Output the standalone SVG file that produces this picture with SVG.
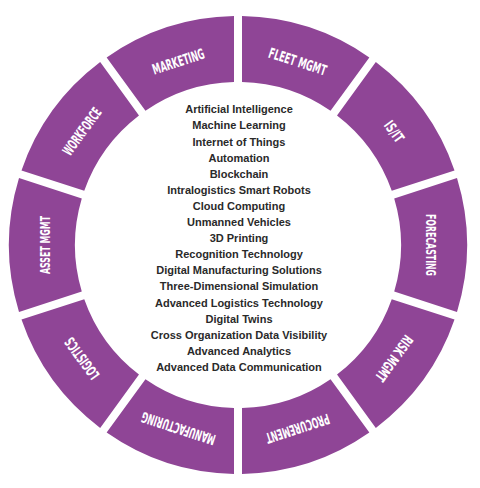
<svg xmlns="http://www.w3.org/2000/svg" width="480" height="488" viewBox="0 0 480 488">
<style>
.seg{fill:#8F4596;}
.lbl{font-family:"Liberation Sans Narrow","DejaVu Sans Condensed","Liberation Sans",sans-serif;font-weight:bold;font-size:14.5px;fill:#ffffff;text-anchor:middle;}
.tech{font-family:"Liberation Sans",Arial,sans-serif;font-weight:bold;font-size:11px;fill:#2a2a2a;text-anchor:middle;}
</style>
<rect width="480" height="488" fill="#ffffff"/>
<g id="fleet-mgmt"><path class="seg" d="M242,16.035 A229,229 0 0 1 369.347,57.413 L330.544,110.819 A163,163 0 0 0 242,82.049 Z"/><text class="lbl" transform="translate(297.64,61.45) rotate(18)" y="5.2" textLength="60" lengthAdjust="spacingAndGlyphs">FLEET MGMT</text></g>
<g id="is-it"><path class="seg" d="M375.819,62.115 A229,229 0 0 1 454.523,170.442 L391.740,190.841 A163,163 0 0 0 337.016,115.521 Z"/><text class="lbl" transform="translate(394.14,131.56) rotate(54)" y="5.2" textLength="23" lengthAdjust="spacingAndGlyphs">IS/IT</text></g>
<g id="forecasting"><path class="seg" d="M456.995,178.050 A229,229 0 0 1 456.995,311.950 L394.212,291.551 A163,163 0 0 0 394.212,198.449 Z"/><text class="lbl" transform="translate(431,245) rotate(90)" y="5.2" textLength="62" lengthAdjust="spacingAndGlyphs">FORECASTING</text></g>
<g id="risk-mgmt"><path class="seg" d="M454.523,319.558 A229,229 0 0 1 375.818,427.886 L337.016,374.479 A163,163 0 0 0 391.740,299.159 Z"/><text class="lbl" transform="translate(394.14,358.44) rotate(126)" y="5.2" textLength="53" lengthAdjust="spacingAndGlyphs">RISK MGMT</text></g>
<g id="procurement"><path class="seg" d="M369.346,432.588 A229,229 0 0 1 242,473.965 L242,407.951 A163,163 0 0 0 330.544,379.181 Z"/><text class="lbl" transform="translate(297.64,428.55) rotate(162)" y="5.2" textLength="66" lengthAdjust="spacingAndGlyphs">PROCUREMENT</text></g>
<g id="manufacturing"><path class="seg" d="M234,473.965 A229,229 0 0 1 106.654,432.588 L145.456,379.181 A163,163 0 0 0 234,407.951 Z"/><text class="lbl" transform="translate(178.36,428.55) rotate(198)" y="5.2" textLength="77" lengthAdjust="spacingAndGlyphs">MANUFACTURING</text></g>
<g id="logistics"><path class="seg" d="M100.182,427.886 A229,229 0 0 1 21.477,319.558 L84.260,299.159 A163,163 0 0 0 138.984,374.479 Z"/><text class="lbl" transform="translate(81.86,358.44) rotate(234)" y="5.2" textLength="48" lengthAdjust="spacingAndGlyphs">LOGISTICS</text></g>
<g id="asset-mgmt"><path class="seg" d="M19.005,311.950 A229,229 0 0 1 19.005,178.050 L81.788,198.449 A163,163 0 0 0 81.788,291.551 Z"/><text class="lbl" transform="translate(45,245) rotate(270)" y="5.2" textLength="58" lengthAdjust="spacingAndGlyphs">ASSET MGMT</text></g>
<g id="workforce"><path class="seg" d="M21.477,170.442 A229,229 0 0 1 100.182,62.114 L138.984,115.521 A163,163 0 0 0 84.260,190.841 Z"/><text class="lbl" transform="translate(81.86,131.56) rotate(306)" y="5.2" textLength="55" lengthAdjust="spacingAndGlyphs">WORKFORCE</text></g>
<g id="marketing"><path class="seg" d="M106.654,57.412 A229,229 0 0 1 234,16.035 L234,82.049 A163,163 0 0 0 145.456,110.819 Z"/><text class="lbl" transform="translate(178.36,61.45) rotate(342)" y="5.2" textLength="54" lengthAdjust="spacingAndGlyphs">MARKETING</text></g>
<g id="connectors"></g>
<g id="technologies">
<text class="tech" x="239" y="113.3">Artificial Intelligence</text>
<text class="tech" x="239" y="129.4">Machine Learning</text>
<text class="tech" x="239" y="145.5">Internet of Things</text>
<text class="tech" x="239" y="161.6">Automation</text>
<text class="tech" x="239" y="177.7">Blockchain</text>
<text class="tech" x="239" y="193.8">Intralogistics Smart Robots</text>
<text class="tech" x="239" y="209.9">Cloud Computing</text>
<text class="tech" x="239" y="226.0">Unmanned Vehicles</text>
<text class="tech" x="239" y="242.1">3D Printing</text>
<text class="tech" x="239" y="258.2">Recognition Technology</text>
<text class="tech" x="239" y="274.3">Digital Manufacturing Solutions</text>
<text class="tech" x="239" y="290.4">Three-Dimensional Simulation</text>
<text class="tech" x="239" y="306.5">Advanced Logistics Technology</text>
<text class="tech" x="239" y="322.6">Digital Twins</text>
<text class="tech" x="239" y="338.7">Cross Organization Data Visibility</text>
<text class="tech" x="239" y="354.8">Advanced Analytics</text>
<text class="tech" x="239" y="370.9">Advanced Data Communication</text>
</g>
</svg>
